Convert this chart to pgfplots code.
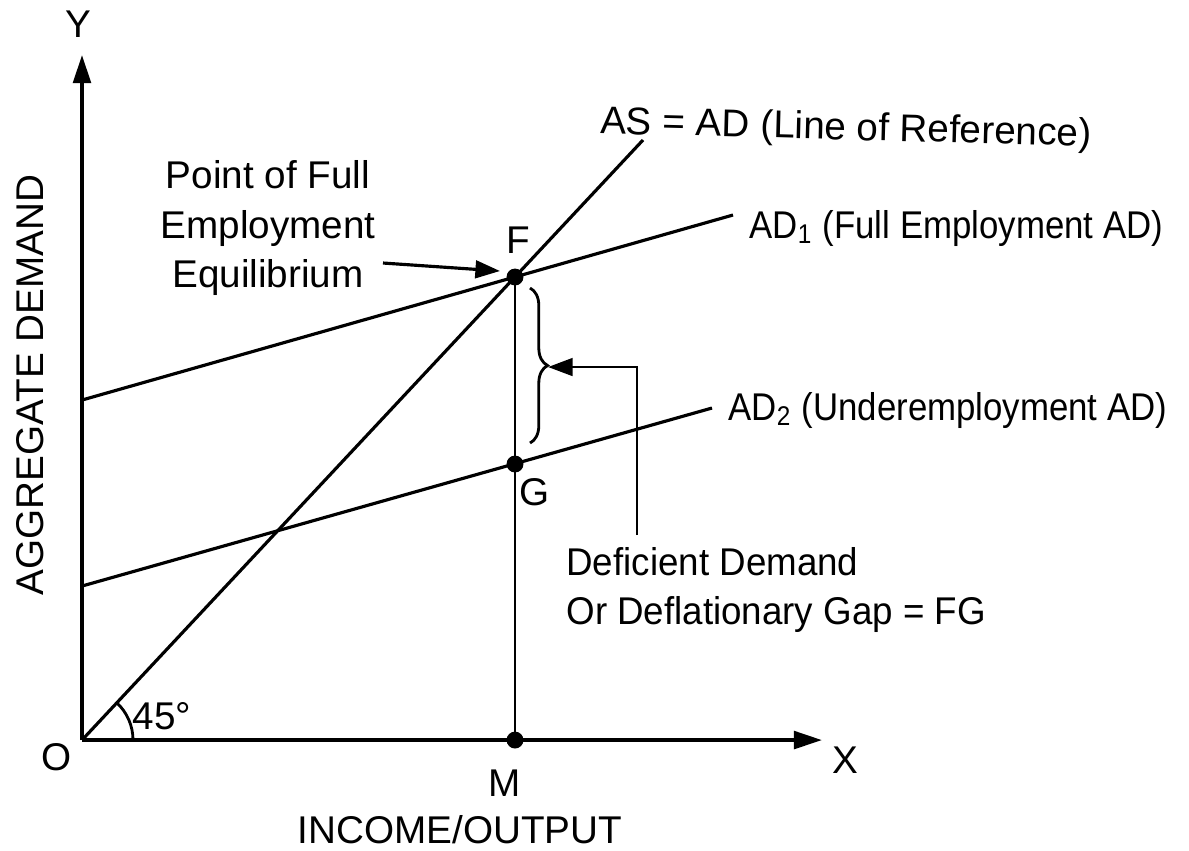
\documentclass[border=0pt]{standalone}
\usepackage{fontspec}
\setmainfont{Liberation Sans}
\newfontfamily\narrowfont{Liberation Sans}[FakeStretch=0.9]
\newfontfamily\semifont{Liberation Sans}[FakeStretch=0.95]
\usepackage{pgfplots}
\pgfplotsset{compat=1.18}
\usetikzlibrary{arrows.meta,decorations.pathreplacing}

\begin{document}
\begin{tikzpicture}[font=\fontsize{11}{13}\selectfont]
\begin{axis}[
  scale only axis, width=74mm, height=68.5mm,
  xmin=0, xmax=740, ymin=0, ymax=685,
  axis lines=left,
  axis line style={line width=1.1pt, -{Triangle[length=8pt,width=5pt]}},
  ticks=none, clip=false,
]
% 45 degree line of reference AS = AD
\addplot[black, line width=0.9pt] coordinates {(0,0) (561,600)};
% AD1: full employment aggregate demand
\addplot[black, line width=0.9pt] coordinates {(0,340) (651,525)};
% AD2: underemployment aggregate demand
\addplot[black, line width=0.9pt] coordinates {(0,154) (630,332)};
% income level M, through F and G
\addplot[black, line width=0.6pt] coordinates {(433,0) (433,463)};
\addplot[black, only marks, mark=*, mark size=2.2pt] coordinates {(433,463) (433,276) (433,0)};

% deflationary gap FG
\draw[decorate, decoration={brace, amplitude=5pt}, line width=0.8pt]
  (axis cs:448,452) -- (axis cs:448,297);
\draw[line width=0.8pt, -{Triangle[length=7pt,width=5pt]}]
  (axis cs:555,205) -- (axis cs:555,373) -- (axis cs:466,373);
\draw[line width=0.9pt, -{Triangle[length=7pt,width=5pt]}]
  (axis cs:301,477) -- (axis cs:418,469);

% 45 degree angle at O
\draw[line width=0.8pt] (axis cs:0,0) ++(0:5.1mm) arc[start angle=0, end angle=47, radius=5.1mm];
\node at (axis cs:80,24) {45°};

% labels
\node at (axis cs:-4,716) {Y};
\node at (axis cs:763,-20) {X};
\node at (axis cs:-25,-17) {O};
\node at (axis cs:423,-43) {M};
\node at (axis cs:436,500) {F};
\node at (axis cs:453,248) {G};
\node at (axis cs:378,-90) {INCOME/OUTPUT};
\node[rotate=90] at (axis cs:-52,355) {AGGREGATE DEMAND};
\node[align=center] at (axis cs:186,512) {Point of Full\\[1pt]Employment\\[1pt]Equilibrium};
\node[anchor=west, rotate=-1.5] at (axis cs:506,617) {AS = AD (Line of Reference)};
\node[anchor=west, font={\narrowfont\fontsize{11}{13}\selectfont}] at (axis cs:655,512) {AD\textsubscript{1} (Full Employment AD)};
\node[anchor=west, font={\narrowfont\fontsize{11}{13}\selectfont}] at (axis cs:634,330) {AD\textsubscript{2} (Underemployment AD)};
\node[anchor=west, align=left, font={\semifont\fontsize{11}{14}\selectfont}] at (axis cs:472,150) {Deficient Demand\\Or Deflationary Gap = FG};

\coordinate (bl) at (axis cs:-82,-110);
\coordinate (tr) at (axis cs:1107,740);
\end{axis}
\pgfresetboundingbox
\useasboundingbox (bl) rectangle (tr);
\end{tikzpicture}
\end{document}
